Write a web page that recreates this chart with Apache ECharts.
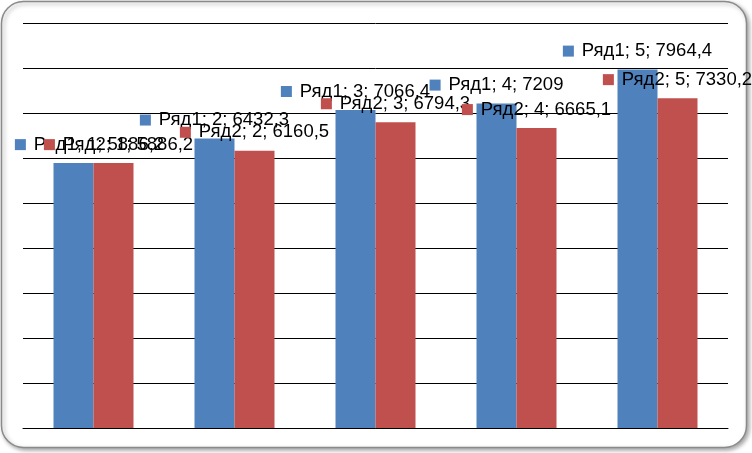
<!DOCTYPE html>
<html><head><meta charset="utf-8">
<script src="https://cdn.jsdelivr.net/npm/echarts@6/dist/echarts.min.js"></script>
<style>html,body{margin:0;padding:0;background:#fff}#c{width:752px;height:453px}</style>
</head><body><div id="c"></div>
<script>
const categories = ['1', '2', '3', '4', '5'];
const series1Name = 'Ряд1';
const series2Name = 'Ряд2';
const series1 = [5886.2, 6432.3, 7066.4, 7209, 7964.4];
const series2 = [5886.2, 6160.5, 6794.3, 6665.1, 7330.2];
const yTicks = [0, 1000, 2000, 3000, 4000, 5000, 6000, 7000, 8000, 9000];

const BLUE = '#4F81BD', RED = '#C0504D';
function fmt(v){ return String(v).replace('.', ','); }
function mkLabel(name, color){
  return {
    show: true, position: 'top', distance: 9,
    formatter: p => '{m|}{t|' + name + '; ' + categories[p.dataIndex] + '; ' + fmt(p.value) + '}',
    rich: {
      m: { width: 11, height: 11, backgroundColor: color },
      t: { fontFamily: 'Liberation Sans', fontSize: 18.5, color: '#000', padding: [0,0,0,8] }
    }
  };
}
// first labels are pushed inward to stay within the chart area (as the original does)
function withEdgeShift(values, shift){
  return values.map((v, i) => i === 0 ? { value: v, label: { offset: [shift, 0] } } : v);
}
const chart = echarts.init(document.getElementById('c'));
chart.setOption({
  animation: false,
  backgroundColor: '#fff',
  graphic: [{
    type: 'rect', z: -10,
    shape: { x: 1.5, y: 1.5, width: 745, height: 446, r: 22 },
    style: { fill: '#fff', stroke: '#8a8a8a', lineWidth: 1.5, shadowBlur: 4, shadowOffsetX: 2, shadowOffsetY: 2, shadowColor: 'rgba(0,0,0,0.35)' }
  }],
  grid: { left: 23, right: 24, top: 23, bottom: 25, containLabel: false },
  xAxis: {
    type: 'category', data: categories,
    axisLine: { show: true, lineStyle: { color: '#000', width: 1 } },
    axisTick: { show: false }, axisLabel: { show: false }
  },
  yAxis: {
    type: 'value', min: yTicks[0], max: yTicks[yTicks.length-1], interval: 1000,
    axisLine: { show: false }, axisTick: { show: false }, axisLabel: { show: false },
    splitLine: { show: true, lineStyle: { color: '#000', width: 1 } }
  },
  series: [
    { name: series1Name, type: 'bar', data: withEdgeShift(series1, 16), barWidth: 40, barGap: '0%',
      itemStyle: { color: BLUE }, label: mkLabel(series1Name, BLUE) },
    { name: series2Name, type: 'bar', data: withEdgeShift(series2, 5), barWidth: 40, barGap: '0%',
      itemStyle: { color: RED }, label: mkLabel(series2Name, RED) }
  ]
});
</script></body></html>
